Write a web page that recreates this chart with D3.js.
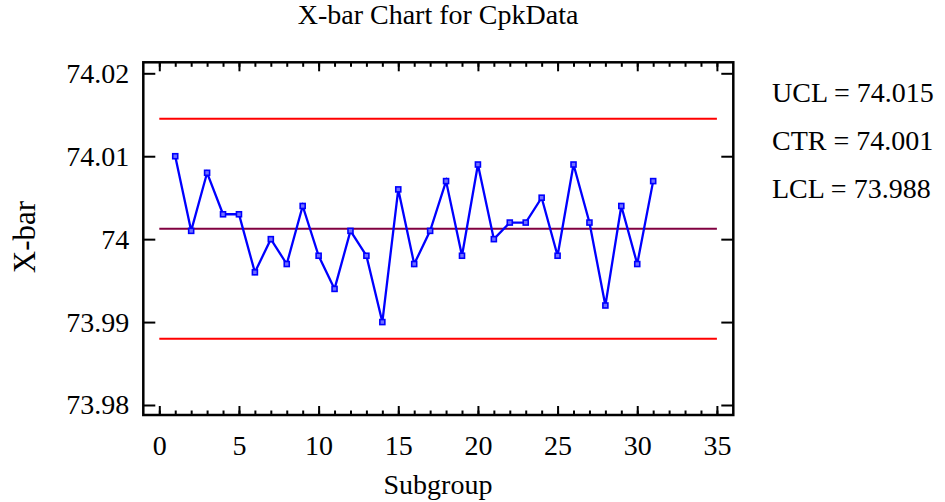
<!DOCTYPE html>
<html>
<head>
<meta charset="utf-8">
<script src="https://cdn.jsdelivr.net/npm/d3@7"></script>
<style>
  html, body { margin: 0; padding: 0; background: #fff; }
  svg { display: block; font-family: "Liberation Serif", "Times New Roman", serif; }
</style>
</head>
<body>
<svg id="chart" width="945" height="502"></svg>
<script>
// Subgroup means
const subgroups = d3.range(1, 32);
const xbar = [
  74.010, 74.001, 74.008, 74.003, 74.003, 73.996, 74.000, 73.997, 74.004, 73.998,
  73.994, 74.001, 73.998, 73.990, 74.006, 73.997, 74.001, 74.007, 73.998, 74.009,
  74.000, 74.002, 74.002, 74.005, 73.998, 74.009, 74.002, 73.992, 74.004, 73.997,
  74.007
];

// Control limits
const limitNames = ["UCL", "CTR", "LCL"];
const limitValues = [74.01452, 74.00126, 73.98800];
const limitColors = ["#ff0000", "#800040", "#ff0000"];

// Axis ticks
const xTicks = [0, 5, 10, 15, 20, 25, 30, 35];
const xMinorTicks = d3.range(0, 36);
const yTicks = [73.98, 73.99, 74.00, 74.01, 74.02];

const svg = d3.select("#chart");

const frame = { left: 143.3, top: 62.3, right: 733.3, bottom: 415 };

const x = d3.scaleLinear().domain([0, 35]).range([159.3, 716.9]);
const y = d3.scaleLinear().domain([73.98, 74.02]).range([405, 73.3]);

const fontFamily = "'Liberation Serif', 'Times New Roman', serif";
const fontSize = 28;

// Title
svg.append("text")
  .attr("x", 438).attr("y", 24)
  .attr("text-anchor", "middle")
  .attr("font-size", fontSize)
  .text("X-bar Chart for CpkData");

// Axes: ticks point inward from the frame on all four sides
function styleAxis(g) {
  g.attr("font-family", fontFamily);
  g.select(".domain").remove();
  g.selectAll(".tick line").attr("stroke", "#000").attr("stroke-width", 2);
  g.selectAll(".tick text")
    .attr("font-family", fontFamily)
    .attr("font-size", fontSize)
    .attr("fill", "#000");
}

// bottom major with labels
svg.append("g")
  .attr("transform", `translate(0,${frame.bottom})`)
  .call(d3.axisBottom(x).tickValues(xTicks).tickSize(-9).tickPadding(20).tickFormat(d3.format("d")))
  .call(styleAxis);
// bottom minor
svg.append("g")
  .attr("transform", `translate(0,${frame.bottom})`)
  .call(d3.axisBottom(x).tickValues(xMinorTicks).tickSize(-4.5).tickFormat(""))
  .call(styleAxis);
// top major + minor
svg.append("g")
  .attr("transform", `translate(0,${frame.top})`)
  .call(d3.axisTop(x).tickValues(xTicks).tickSize(-9).tickFormat(""))
  .call(styleAxis);
svg.append("g")
  .attr("transform", `translate(0,${frame.top})`)
  .call(d3.axisTop(x).tickValues(xMinorTicks).tickSize(-4.5).tickFormat(""))
  .call(styleAxis);
// left with labels
svg.append("g")
  .attr("transform", `translate(${frame.left},0)`)
  .call(d3.axisLeft(y).tickValues(yTicks).tickSize(-12).tickPadding(14).tickFormat(d3.format(".2~f")))
  .call(styleAxis);
// right
svg.append("g")
  .attr("transform", `translate(${frame.right},0)`)
  .call(d3.axisRight(y).tickValues(yTicks).tickSize(-12).tickFormat(""))
  .call(styleAxis);

// Frame
svg.append("rect")
  .attr("x", frame.left).attr("y", frame.top)
  .attr("width", frame.right - frame.left)
  .attr("height", frame.bottom - frame.top)
  .attr("fill", "none").attr("stroke", "#000").attr("stroke-width", 2.5);

// Control lines
svg.append("g").selectAll("line")
  .data(limitValues)
  .join("line")
  .attr("x1", x(0)).attr("x2", x(35))
  .attr("y1", d => y(d)).attr("y2", d => y(d))
  .attr("stroke", (d, i) => limitColors[i])
  .attr("stroke-width", 2);

// Series line
const pts = subgroups.map((s, i) => [s, xbar[i]]);
svg.append("path")
  .datum(pts)
  .attr("fill", "none")
  .attr("stroke", "#0000ff")
  .attr("stroke-width", 2.3)
  .attr("d", d3.line().x(d => x(d[0])).y(d => y(d[1])));

// Markers
const m = 5;
svg.append("g").selectAll("rect")
  .data(pts)
  .join("rect")
  .attr("x", d => x(d[0]) - m / 2)
  .attr("y", d => y(d[1]) - m / 2)
  .attr("width", m).attr("height", m)
  .attr("fill", "#7070ff")
  .attr("stroke", "#0000ff")
  .attr("stroke-width", 1.6);

// Axis titles
svg.append("text")
  .attr("x", 438).attr("y", 494)
  .attr("text-anchor", "middle")
  .attr("font-size", fontSize)
  .text("Subgroup");

svg.append("text")
  .attr("transform", "translate(35,237) rotate(-90)")
  .attr("text-anchor", "middle")
  .attr("font-size", 31)
  .text("X-bar");

// Control limit annotations
const fmt = d3.format(".3f");
svg.append("g").selectAll("text")
  .data(limitNames)
  .join("text")
  .attr("x", 772)
  .attr("y", (d, i) => 101.7 + i * 48.3)
  .attr("font-size", fontSize)
  .text((d, i) => `${d} = ${fmt(limitValues[i])}`);
</script>
</body>
</html>
